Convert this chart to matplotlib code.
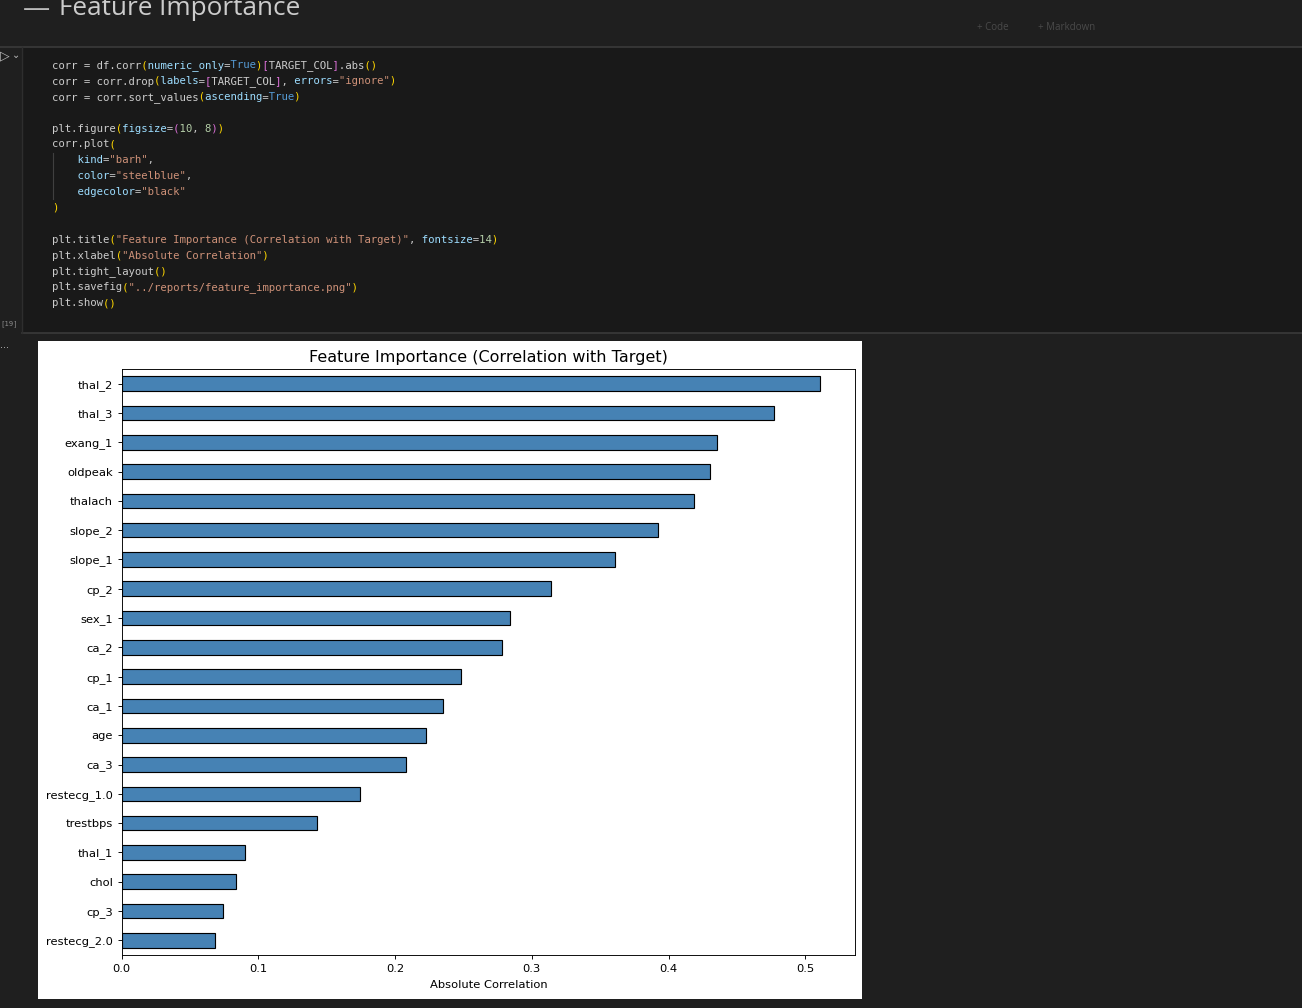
import matplotlib
matplotlib.use("Agg")
import matplotlib.pyplot as plt
from matplotlib.patches import Rectangle
from matplotlib.lines import Line2D

# features sorted ascending (bottom -> top)
features = ["restecg_2.0", "cp_3", "chol", "thal_1", "trestbps", "restecg_1.0",
            "ca_3", "age", "ca_1", "cp_1", "ca_2", "sex_1", "cp_2", "slope_1",
            "slope_2", "thalach", "oldpeak", "exang_1", "thal_3", "thal_2"]
abs_corr = [0.0680, 0.0741, 0.0839, 0.0900, 0.1431, 0.1743,
            0.2077, 0.2224, 0.2353, 0.2480, 0.2780, 0.2838, 0.3138, 0.3606,
            0.3921, 0.4189, 0.4304, 0.4357, 0.4772, 0.5108]

chart_title = "Feature Importance (Correlation with Target)"
x_label = "Absolute Correlation"

# notebook colours
W = "#cccccc"    # plain text
LB = "#9cdcfe"   # keyword args
BL = "#569cd6"   # True
OR = "#ce9178"   # strings
GR = "#b5cea8"   # numbers
YE = "#ffd700"   # bracket level 1
PK = "#da70d6"   # bracket level 2

code_lines = [
    [("corr = df.corr", W), ("(", YE), ("numeric_only", LB), ("=", W), ("True", BL), (")", YE),
     ("[", PK), ("TARGET_COL", W), ("]", PK), (".abs", W), ("()", YE)],
    [("corr = corr.drop", W), ("(", YE), ("labels", LB), ("=", W), ("[", PK), ("TARGET_COL", W),
     ("]", PK), (", ", W), ("errors", LB), ("=", W), ('"ignore"', OR), (")", YE)],
    [("corr = corr.sort_values", W), ("(", YE), ("ascending", LB), ("=", W), ("True", BL), (")", YE)],
    [],
    [("plt.figure", W), ("(", YE), ("figsize", LB), ("=", W), ("(", PK), ("10", GR), (", ", W),
     ("8", GR), (")", PK), (")", YE)],
    [("corr.plot", W), ("(", YE)],
    [("    ", W), ("kind", LB), ("=", W), ('"barh"', OR), (",", W)],
    [("    ", W), ("color", LB), ("=", W), ('"steelblue"', OR), (",", W)],
    [("    ", W), ("edgecolor", LB), ("=", W), ('"black"', OR)],
    [(")", YE)],
    [],
    [("plt.title", W), ("(", YE), ('"Feature Importance (Correlation with Target)"', OR), (", ", W),
     ("fontsize", LB), ("=", W), ("14", GR), (")", YE)],
    [("plt.xlabel", W), ("(", YE), ('"Absolute Correlation"', OR), (")", YE)],
    [("plt.tight_layout", W), ("()", YE)],
    [("plt.savefig", W), ("(", YE), ('"../reports/feature_importance.png"', OR), (")", YE)],
    [("plt.show", W), ("()", YE)],
]

FW, FH = 1302, 1008
fig = plt.figure(figsize=(FW / 100, FH / 100), dpi=100)
fig.patch.set_facecolor("#1f1f1f")


def fx(px):
    return px / FW


def fy(py):
    return 1 - py / FH


def rect(x0, y0, x1, y1, color, z=-2):
    fig.add_artist(Rectangle((fx(x0), fy(y1)), fx(x1) - fx(x0), fy(y0) - fy(y1),
                             transform=fig.transFigure, facecolor=color,
                             edgecolor="none", zorder=z))


def hline(y, x0, x1, color, lw=1.0):
    fig.add_artist(Line2D([fx(x0), fx(x1)], [fy(y), fy(y)], transform=fig.transFigure,
                          color=color, lw=lw, zorder=-1))


def vline(x, y0, y1, color, lw=1.0):
    fig.add_artist(Line2D([fx(x), fx(x)], [fy(y0), fy(y1)], transform=fig.transFigure,
                          color=color, lw=lw, zorder=-1))


# header / toolbar strip (cut off at the top, as in the screenshot)
fig.text(fx(23), fy(16), "—", color="#bbbbbb", fontsize=19.5, family="Open Sans", va="baseline")
fig.text(fx(59), fy(15), "Feature Importance", color="#cccccc", fontsize=18.8,
         family="Open Sans", va="baseline")
fig.text(fx(977), fy(28), "+ Code", color="#4a4a4a", fontsize=7, family="Open Sans", va="center")
fig.text(fx(1038), fy(28), "+ Markdown", color="#4a4a4a", fontsize=7, family="Open Sans", va="center")

# code cell
rect(22, 47, FW, 333, "#191919")
hline(47, 0, FW, "#3a3a3a", 1.2)
hline(333, 22, FW, "#3a3a3a", 1.2)
vline(22, 47, 333, "#2e2e2e", 1.0)
fig.text(fx(0), fy(56), "▷", color="#bbbbbb", fontsize=9, family="DejaVu Sans", va="center")
fig.text(fx(12), fy(55), "⌄", color="#bbbbbb", fontsize=7, family="DejaVu Sans", va="center")
fig.text(fx(0), fy(324), "[19]", color="#8a8a8a", fontsize=5.2, family="DejaVu Sans Mono", va="center")
fig.text(fx(0), fy(345), "...", color="#bbbbbb", fontsize=7, family="DejaVu Sans", va="center")

# one full-width string per colour per line, other characters blanked,
# so that the monospace columns stay aligned
x0_code = 52
y0_code, line_h = 68, 15.88
for i, tokens in enumerate(code_lines):
    for c in {c for _, c in tokens}:
        s = "".join(t if tc == c else " " * len(t) for t, tc in tokens)
        if s.strip():
            fig.text(fx(x0_code), fy(y0_code + i * line_h), s, color=c,
                     fontsize=7.7, family="DejaVu Sans Mono", va="baseline")
vline(53, 153, 199, "#404040", 0.8)

# output image
rect(38, 341, 862, 999, "white", z=-1)

ax = fig.add_axes([fx(121.7), fy(955), fx(855) - fx(121.7), fy(369) - fy(955)])
ax.set_facecolor("white")
ax.barh(range(len(features)), abs_corr, height=0.5, color="steelblue",
        edgecolor="black", linewidth=0.82)
ax.set_yticks(range(len(features)))
ax.set_yticklabels(features)
ax.set_ylim(-0.5, len(features) - 0.5)
ax.set_xticks([0.0, 0.1, 0.2, 0.3, 0.4, 0.5])
ax.tick_params(labelsize=8.24, length=2.9, width=0.66, pad=2.9)
ax.tick_params(axis="x", pad=3.6)
ax.tick_params(axis="y", pad=3.4)
for s in ax.spines.values():
    s.set_linewidth(0.66)
ax.set_title(chart_title, fontsize=11.5, pad=5.2)
ax.set_xlabel(x_label, fontsize=8.24, labelpad=4.6)

fig.savefig("out.png", dpi=100, facecolor=fig.get_facecolor())
